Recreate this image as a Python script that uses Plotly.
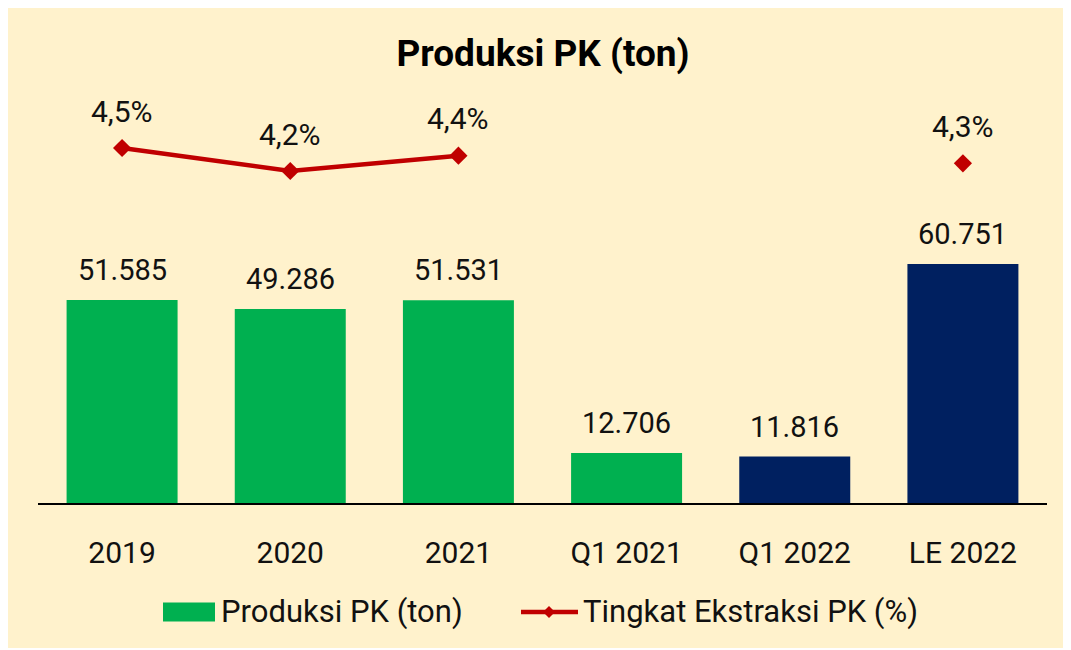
import plotly.graph_objects as go

categories = ["2019", "2020", "2021", "Q1 2021", "Q1 2022", "LE 2022"]
production = [51585, 49286, 51531, 12706, 11816, 60751]
bar_colors = ["#00B050", "#00B050", "#00B050", "#00B050", "#002060", "#002060"]
extraction = [4.5, 4.2, 4.4, None, None, 4.3]
legend_labels = ["Produksi PK (ton)", "Tingkat Ekstraksi PK (%)"]

FONT = "Roboto, 'DejaVu Sans', sans-serif"
W, H = 1085, 640
L, R, T, B = 30, 46, 82, 145
PW, PH = W - L - R, H - T - B
GREEN, NAVY, RED = "#00B050", "#002060", "#C00000"

fig = go.Figure()
fig.add_trace(go.Bar(
    x=categories, y=production, name=legend_labels[0],
    marker=dict(color=bar_colors, line=dict(width=0)),
    hoverinfo="skip", showlegend=False,
))
fig.add_trace(go.Scatter(
    x=categories, y=extraction, name=legend_labels[1],
    mode="lines+markers", yaxis="y2", connectgaps=False,
    line=dict(color=RED, width=4.5),
    marker=dict(symbol="diamond", size=14, color=RED),
    hoverinfo="skip", showlegend=False,
))

annotations = []
for i, v in enumerate(production):
    annotations.append(dict(
        x=i, y=v, xref="x", yref="y", text=f"{v:,}".replace(",", "."),
        showarrow=False, yanchor="middle", yshift=30,
        font=dict(family=FONT, size=29, color="#111111"),
    ))
for i, v in enumerate(extraction):
    if v is None:
        continue
    annotations.append(dict(
        x=i, y=v, xref="x", yref="y2", text=f"{v:.1f}%".replace(".", ","),
        showarrow=False, yanchor="middle", yshift=37,
        font=dict(family=FONT, size=30, color="#111111"),
    ))


def px_x(p):
    return (p - L) / PW


def px_y(p):
    return (T + PH - p) / PH


# custom legend (larger swatches like the original)
LEG_Y = 604
shapes = [
    dict(type="rect", xref="paper", yref="paper",
         x0=px_x(155), x1=px_x(207), y0=px_y(LEG_Y + 9.5), y1=px_y(LEG_Y - 9.5),
         fillcolor=GREEN, line=dict(width=0)),
    dict(type="line", xref="paper", yref="paper",
         x0=px_x(513), x1=px_x(570), y0=px_y(LEG_Y), y1=px_y(LEG_Y),
         line=dict(color=RED, width=4.5)),
    dict(type="path", xref="paper", yref="paper",
         path="M {a},{b} L {c},{d} L {a},{e} L {f},{d} Z".format(
             a=px_x(541), b=px_y(LEG_Y - 6), c=px_x(547), d=px_y(LEG_Y),
             e=px_y(LEG_Y + 6), f=px_x(535)),
         fillcolor=RED, line=dict(width=0)),
]
annotations.append(dict(
    x=px_x(211), y=px_y(LEG_Y - 1), xref="paper", yref="paper",
    text=legend_labels[0], showarrow=False, xanchor="left", yanchor="middle",
    font=dict(family=FONT, size=31, color="#111111")))
annotations.append(dict(
    x=px_x(573), y=px_y(LEG_Y - 1), xref="paper", yref="paper",
    text=legend_labels[1], showarrow=False, xanchor="left", yanchor="middle",
    font=dict(family=FONT, size=31, color="#111111")))

fig.update_layout(
    width=W, height=H,
    margin=dict(l=L, r=R, t=T, b=B),
    paper_bgcolor="#FFF2CC", plot_bgcolor="rgba(0,0,0,0)",
    font=dict(family=FONT, size=30, color="#111111"),
    title=dict(text="<b>Produksi PK (ton)</b>", x=px_x(535), xref="paper",
               xanchor="center", y=1 - 45 / H, yanchor="middle",
               font=dict(family=FONT, size=37, color="#000000")),
    bargap=0.34,
    xaxis=dict(type="category", range=[-0.5, len(categories) - 0.5],
               showline=True, linecolor="#000000", linewidth=1.5,
               showgrid=False, ticks="", ticklabelstandoff=22,
               tickfont=dict(family=FONT, size=30, color="#111111")),
    yaxis=dict(range=[0, PH / 0.003935], visible=False, showgrid=False),
    yaxis2=dict(range=[4.5 - (T + PH - 140) / 76.67, 4.5 + (140 - T) / 76.67],
                overlaying="y", side="right", visible=False, showgrid=False),
    showlegend=False,
    annotations=annotations,
    shapes=shapes,
)

fig.write_html("out.html", post_script="document.body.style.overflow='hidden';")
